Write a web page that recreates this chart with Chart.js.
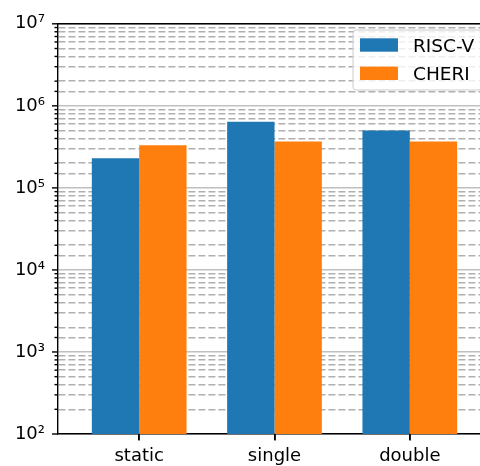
<!DOCTYPE html>
<html><head><meta charset="utf-8">
<script src="https://cdn.jsdelivr.net/npm/chart.js@4/dist/chart.umd.min.js"></script>
<style>
html,body{margin:0;padding:0;background:#fff;overflow:hidden;}
#wrap{width:480px;height:466px;overflow:hidden;position:relative;background:#fff;}
#c{position:absolute;left:0;top:0;}
</style></head><body>
<div id="wrap"><canvas id="c" width="500" height="466"></canvas></div>
<script>
const categories = ['static', 'single', 'double'];
const seriesNames = ['RISC-V', 'CHERI'];
const riscvValues = [230000, 640000, 500000];
const cheriValues = [330000, 368000, 368000];
const yTickLabels = {2: '10²', 3: '10³', 4: '10⁴', 5: '10⁵', 6: '10⁶', 7: '10⁷'};
const seriesColors = ['#1f77b4', '#ff7f0e'];

const FONT = 'DejaVu Sans';
function isMajor(v) { const e = Math.log10(v); return Math.abs(e - Math.round(e)) < 1e-9; }

const decor = {
  id: 'decor',
  afterDraw(chart) {
    const {ctx, chartArea: a, scales: {x, y}} = chart;
    ctx.save();
    ctx.strokeStyle = '#000';
    ctx.lineWidth = 1.4;
    ctx.setLineDash([]);
    y.ticks.forEach(t => {
      const p = y.getPixelForValue(t.value);
      const len = isMajor(t.value) ? 6 : 3.5;
      ctx.beginPath(); ctx.moveTo(a.left - len, p); ctx.lineTo(a.left, p); ctx.stroke();
    });
    ctx.lineWidth = 1.6;
    categories.forEach((c, i) => {
      const p = Math.round(x.getPixelForValue(i));
      ctx.beginPath(); ctx.moveTo(p, a.bottom); ctx.lineTo(p, a.bottom + 6.5); ctx.stroke();
    });
    ctx.lineWidth = 1.4;
    ctx.beginPath();
    ctx.moveTo(a.left, a.top); ctx.lineTo(a.right, a.top); ctx.lineTo(a.right, a.bottom);
    ctx.stroke();
    // legend
    const lx = 353, ly = 30, lw = 129, lh = 60, r = 3;
    ctx.beginPath();
    ctx.moveTo(lx + r, ly); ctx.lineTo(lx + lw - r, ly); ctx.arcTo(lx + lw, ly, lx + lw, ly + r, r);
    ctx.lineTo(lx + lw, ly + lh - r); ctx.arcTo(lx + lw, ly + lh, lx + lw - r, ly + lh, r);
    ctx.lineTo(lx + r, ly + lh); ctx.arcTo(lx, ly + lh, lx, ly + lh - r, r);
    ctx.lineTo(lx, ly + r); ctx.arcTo(lx, ly, lx + r, ly, r);
    ctx.closePath();
    ctx.fillStyle = 'rgba(255,255,255,0.8)'; ctx.fill();
    ctx.strokeStyle = '#cccccc'; ctx.lineWidth = 1; ctx.stroke();
    chart.data.datasets.forEach((ds, i) => {
      const top = 38.3 + i * 28.3;
      ctx.fillStyle = ds.backgroundColor;
      ctx.fillRect(360, top, 38, 13.4);
      ctx.fillStyle = '#000';
      ctx.font = '18.5px "' + FONT + '"';
      ctx.textBaseline = 'alphabetic';
      ctx.textAlign = 'left';
      ctx.fillText(ds.label, 413, top + 13.4);
    });
    ctx.restore();
  }
};

new Chart(document.getElementById('c'), {
  type: 'bar',
  data: {
    datasets: [
      {label: seriesNames[0], data: riscvValues.map((v, i) => ({x: i, y: v})), backgroundColor: seriesColors[0], borderWidth: 0},
      {label: seriesNames[1], data: cheriValues.map((v, i) => ({x: i, y: v})), backgroundColor: seriesColors[1], borderWidth: 0}
    ]
  },
  options: {
    responsive: false,
    animation: false,
    devicePixelRatio: 1,
    layout: {padding: {top: 20, right: 9, left: 0, bottom: 0}},
    datasets: {bar: {categoryPercentage: 0.7, barPercentage: 1.0}},
    plugins: {legend: {display: false}, tooltip: {enabled: false}},
    scales: {
      x: {
        type: 'linear', min: -0.6, max: 2.6, offset: false,
        afterBuildTicks: s => { s.ticks = categories.map((c, i) => ({value: i})); },
        afterFit: s => { s.height = 32; },
        ticks: {autoSkip: false, maxRotation: 0, padding: 6, color: '#000', font: {family: FONT, size: 18},
          callback: v => categories[v] !== undefined ? categories[v] : ''},
        grid: {display: true, offset: false, drawOnChartArea: false, drawTicks: true, tickLength: 6, tickColor: '#000', tickWidth: 1.4, lineWidth: 1.4, color: '#000'},
        border: {display: true, color: '#000', width: 1.4}
      },
      y: {
        type: 'logarithmic', min: 100, max: 1e7,
        afterFit: s => { s.width = 58; },
        ticks: {autoSkip: false, padding: 13, color: '#000', font: {family: FONT, size: 18},
          callback: v => isMajor(v) ? yTickLabels[Math.round(Math.log10(v))] : ''},
        grid: {drawTicks: false, lineWidth: 1.5,
          color: ctx => ctx.tick && isMajor(ctx.tick.value) ? 'rgba(192,192,192,1)' : 'rgba(176,176,176,1)'},
        border: {display: true, color: '#000', width: 1.4,
          dash: ctx => (ctx.tick && !isMajor(ctx.tick.value)) ? [7, 3] : []}
      }
    }
  },
  plugins: [decor]
});
</script>
</body></html>
